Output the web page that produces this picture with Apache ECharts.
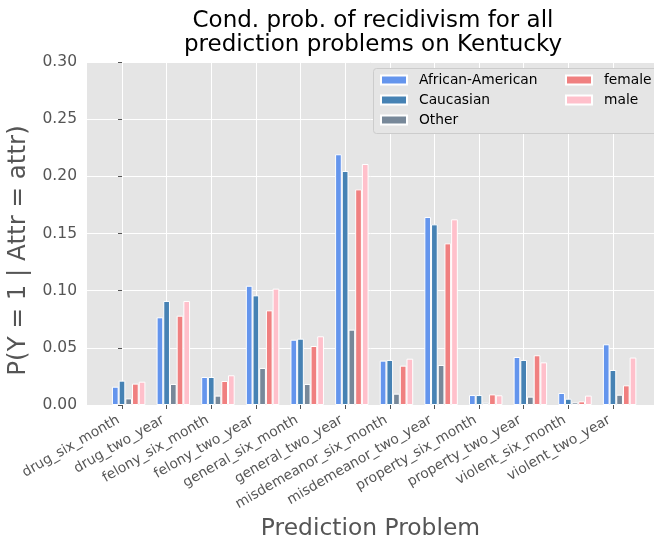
<!DOCTYPE html>
<html>
<head>
<meta charset="utf-8">
<script src="https://cdn.jsdelivr.net/npm/echarts@6/dist/echarts.min.js"></script>
<style>html,body{margin:0;padding:0;background:#fff}#c{width:654px;height:540px}</style>
</head>
<body>
<div id="c"></div>
<script>
const categories = ['drug_six_month','drug_two_year','felony_six_month','felony_two_year','general_six_month','general_two_year','misdemeanor_six_month','misdemeanor_two_year','property_six_month','property_two_year','violent_six_month','violent_two_year'];
const africanAmerican = [0.0160, 0.0767, 0.0245, 0.1043, 0.0571, 0.2193, 0.0388, 0.1644, 0.0087, 0.0420, 0.0105, 0.0531];
const caucasian       = [0.0213, 0.0910, 0.0245, 0.0959, 0.0580, 0.2047, 0.0394, 0.1580, 0.0087, 0.0394, 0.0055, 0.0306];
const other           = [0.0058, 0.0184, 0.0082, 0.0324, 0.0184, 0.0659, 0.0099, 0.0350, 0.0020, 0.0073, 0.0023, 0.0090];
const female          = [0.0187, 0.0781, 0.0210, 0.0828, 0.0516, 0.1886, 0.0344, 0.1414, 0.0093, 0.0435, 0.0032, 0.0172];
const male            = [0.0204, 0.0910, 0.0260, 0.1018, 0.0601, 0.2108, 0.0405, 0.1624, 0.0085, 0.0373, 0.0082, 0.0415];
const seriesNames = ['African-American','Caucasian','Other','female','male'];
const yTickValues = [0, 0.05, 0.10, 0.15, 0.20, 0.25, 0.30];

const colors = ['#6495ED','#4682B4','#778899','#F08080','#FFC0CB'];
const allValues = [africanAmerican, caucasian, other, female, male];

const gridLeft = 87, gridTop = 62, gridRight = 0, gridBottom = 135;
const gridWidth = 654 - gridLeft - gridRight;
const pxPerUnit = 44.63;
const xMin = -0.784;
const xMax = xMin + gridWidth / pxPerUnit;
const barW = 0.15;
const idx = categories.map((c, i) => i);
const font = 'DejaVu Sans';

const series = seriesNames.map((name, k) => ({
  name: name,
  type: 'bar',
  barWidth: barW * pxPerUnit,
  barGap: '-100%',
  itemStyle: { color: colors[k], borderColor: '#ffffff', borderWidth: 1 },
  data: allValues[k].map((v, i) => [i + (k - 1) * barW, v])
}));

const chart = echarts.init(document.getElementById('c'), null, { renderer: 'canvas' });
chart.setOption({
  animation: false,
  textStyle: { fontFamily: font },
  title: {
    text: 'Cond. prob. of recidivism for all\nprediction problems on Kentucky',
    left: 373, top: 9, padding: 0, textAlign: 'center',
    textStyle: { fontFamily: font, fontSize: 23, fontWeight: 'normal', color: '#000', lineHeight: 24 }
  },
  graphic: [{
    type: 'rect', z: 3, left: 373, top: 68,
    shape: { width: 300, height: 65, r: 3 },
    style: { fill: '#E5E5E5', stroke: '#cccccc', lineWidth: 1 }
  }],
  legend: [{
    data: seriesNames.slice(0, 3), orient: 'vertical', left: 380, top: 72, padding: 0,
    itemWidth: 26, itemHeight: 9, itemGap: 4, icon: 'rect', z: 5,
    textStyle: { fontFamily: font, fontSize: 13.8, color: '#000', lineHeight: 16, padding: [0, 0, 0, 7] }
  }, {
    data: seriesNames.slice(3), orient: 'vertical', left: 565, top: 72, padding: 0,
    itemWidth: 26, itemHeight: 9, itemGap: 4, icon: 'rect', z: 5,
    textStyle: { fontFamily: font, fontSize: 13.8, color: '#000', lineHeight: 16, padding: [0, 0, 0, 7] }
  }],
  grid: {
    left: gridLeft, top: gridTop, right: gridRight, bottom: gridBottom,
    outerBoundsMode: 'none',
    show: true, backgroundColor: '#E5E5E5', borderWidth: 0, containLabel: false
  },
  xAxis: {
    type: 'value', min: xMin, max: xMax,
    name: 'Prediction Problem', nameLocation: 'middle', nameGap: 108,
    nameTextStyle: { fontFamily: font, fontSize: 23.4, color: '#555555' },
    axisLine: { show: false },
    axisTick: { show: true, customValues: idx, length: 4, lineStyle: { color: '#555555' } },
    axisLabel: {
      customValues: idx, rotate: 30, margin: 12, padding: [0, 4, 0, 0],
      formatter: v => categories[Math.round(v)],
      fontFamily: font, fontSize: 13.8, color: '#555555'
    },
    splitLine: { show: true, lineStyle: { color: '#ffffff', width: 1 } }
  },
  yAxis: {
    type: 'value', min: 0, max: 0.3, interval: 0.05,
    name: 'P(Y = 1 | Attr = attr)', nameLocation: 'middle', nameGap: 49,
    nameTextStyle: { fontFamily: font, fontSize: 24.5, color: '#555555', padding: [0, 34, 0, 0] },
    axisLine: { show: false },
    axisTick: { show: true, length: 4, lineStyle: { color: '#555555' } },
    axisLabel: { formatter: v => v.toFixed(2), fontFamily: font, fontSize: 15.5, color: '#555555', margin: 10 },
    splitLine: { show: true, lineStyle: { color: '#ffffff', width: 1 } }
  },
  series: series
});
</script>
</body>
</html>
